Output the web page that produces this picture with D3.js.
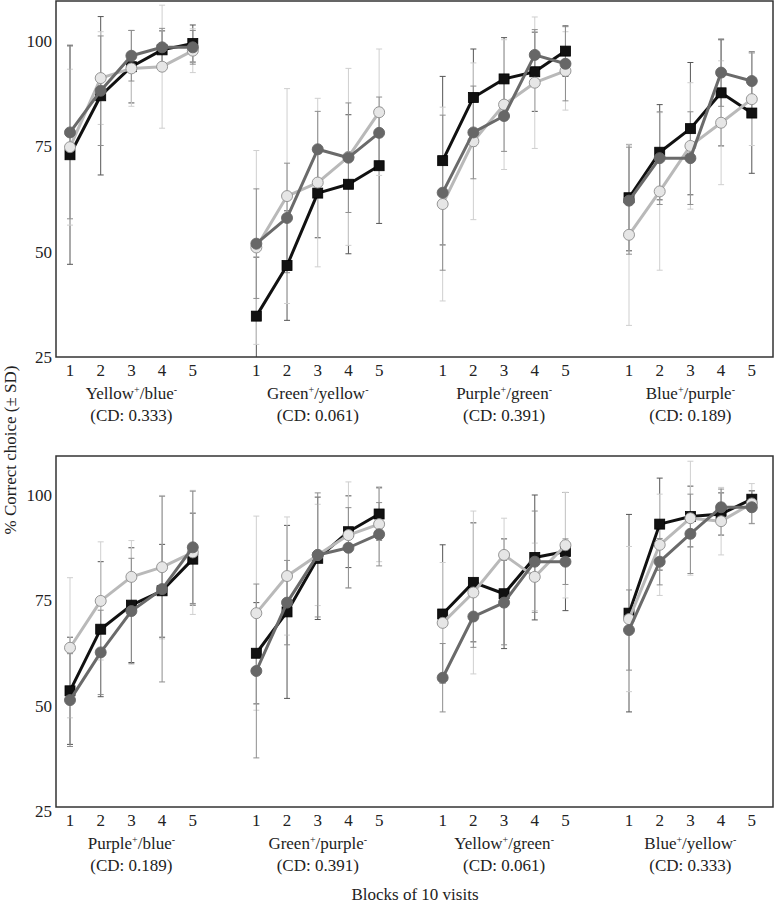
<!DOCTYPE html>
<html><head><meta charset="utf-8">
<script src="https://cdn.jsdelivr.net/npm/d3@7/dist/d3.min.js"></script>
<style>
body{margin:0;background:#fff}
text{font-family:"Liberation Serif","Times New Roman",serif;fill:#222}
</style>
</head><body>
<svg id="chart" width="775" height="905"></svg>
<script>
// ---------- DATA ----------
const blocks = [1, 2, 3, 4, 5];
const yTicks = [25, 50, 75, 100];

const topPlus  = ["Yellow", "Green", "Purple", "Blue"];
const topMinus = ["blue", "yellow", "green", "purple"];
const topCD    = ["0.333", "0.061", "0.391", "0.189"];

const botPlus  = ["Purple", "Green", "Yellow", "Blue"];
const botMinus = ["blue", "purple", "green", "yellow"];
const botCD    = ["0.189", "0.391", "0.061", "0.333"];

// top panel means (one row per pair, 5 blocks)
const topBlack = [[73.0, 87.0, 93.9, 97.9, 99.4],[34.7, 46.7, 63.9, 66.0, 70.4],[71.6, 86.6, 91.0, 92.7, 97.6],[62.8, 73.6, 79.2, 87.7, 82.9]];
const topDark  = [[78.3, 88.2, 96.5, 98.5, 98.5],[51.9, 58.0, 74.3, 72.3, 78.2],[64.0, 78.3, 82.2, 96.7, 94.6],[62.1, 72.2, 72.2, 92.5, 90.5]];
const topLight = [[74.8, 91.2, 93.5, 93.9, 97.7],[51.0, 63.2, 66.4, 72.5, 83.1],[61.3, 76.2, 84.9, 90.1, 92.9],[54.0, 64.3, 75.1, 80.6, 86.2]];
// top panel SDs
const topBlackSD = [[26, 18.8, 8.6, 4.5, 4.4],[14, 13, 10.6, 16.5, 13.7],[20, 11.5, 9.8, 9.4, 6],[12.6, 11.3, 15.7, 12.6, 14.3]];
const topDarkSD  = [[20.5, 13, 6, 4.5, 4],[13, 13, 9, 13, 8.5],[18.4, 11, 8.4, 6, 8.8],[12.7, 11, 11, 8, 7]];
const topLightSD = [[18.5, 11, 9, 14.6, 5.2],[23, 25.5, 20, 21, 15],[23, 18.6, 15.4, 15.6, 9.3],[21.5, 18.7, 15, 14.7, 11]];

// bottom panel means
const botBlack = [[53.6, 68.2, 73.9, 77.3, 84.8],[62.5, 72.3, 85.0, 91.3, 95.5],[71.8, 79.3, 76.6, 85.2, 86.6],[72.0, 93.1, 94.9, 95.5, 99.0]];
const botDark  = [[51.4, 62.7, 72.5, 77.7, 87.6],[58.3, 74.5, 85.8, 87.5, 90.7],[56.7, 71.2, 74.5, 84.2, 84.2],[68.0, 84.2, 90.8, 97.1, 97.1]];
const botLight = [[63.8, 74.9, 80.6, 82.9, 86.4],[72.0, 80.8, 85.8, 90.5, 93.1],[69.7, 76.9, 85.8, 80.6, 88.1],[70.6, 88.2, 94.5, 93.8, 98.0]];
// bottom panel SDs
const botBlackSD = [[12.7, 16, 13.6, 11, 10.9],[12, 20.5, 14.5, 8.5, 6.2],[16.4, 14.1, 13, 14.8, 14],[23.4, 10.9, 7.2, 5, 2]];
const botDarkSD  = [[11, 10, 12.5, 22, 13.3],[20.6, 10, 14.7, 9.5, 7.5],[8.1, 7.3, 10, 12, 5.4],[9.5, 5.5, 9.4, 4.3, 3.9]];
const botLightSD = [[16.6, 14, 8.6, 17, 14.7],[23, 14, 12, 12.6, 8.9],[14.3, 19.3, 8.7, 8, 12.5],[17.2, 12, 13.5, 8, 4.7]];

const yTitle = "% Correct choice (\u00B1 SD)";
const xTitle = "Blocks of 10 visits";

// ---------- LAYOUT ----------
const svg = d3.select("#chart");
const frameL = 56, frameR = 773;
const groupX = d3.scaleLinear().domain([0, 3]).range([70, 629]);
const blockX = d3.scaleLinear().domain([1, 5]).range([0, 122.8]);
const xPos = (g, b) => groupX(g) + blockX(b);

const styles = {
  black: {line: "#111", fill: "#111", stroke: "#111", err: "#555", shape: "square"},
  light: {line: "#b9b9b9", fill: "#e6e6e6", stroke: "#8c8c8c", err: "#cfcfcf", shape: "circle"},
  dark:  {line: "#6a6a6a", fill: "#676767", stroke: "#676767", err: "#8e8e8e", shape: "circle"}
};

const panels = [
  {id: "top", top: 1, bottom: 357, y: d3.scaleLinear().domain([25, 100]).range([357, 41]),
   plus: topPlus, minus: topMinus, cd: topCD,
   series: [["black", topBlack, topBlackSD], ["light", topLight, topLightSD], ["dark", topDark, topDarkSD]]},
  {id: "bot", top: 456, bottom: 807, y: d3.scaleLinear().domain([25, 100]).range([811.5, 495]),
   plus: botPlus, minus: botMinus, cd: botCD,
   series: [["black", botBlack, botBlackSD], ["light", botLight, botLightSD], ["dark", botDark, botDarkSD]]}
];

panels.forEach(p => {
  const g = svg.append("g");
  const clipId = "clip-" + p.id;
  svg.append("defs").append("clipPath").attr("id", clipId)
    .append("rect").attr("x", frameL).attr("y", p.top).attr("width", frameR - frameL).attr("height", p.bottom - p.top);

  // y tick labels
  g.selectAll(".yt").data(yTicks).join("text")
    .attr("x", 52).attr("y", d => p.y(d)).attr("dy", "0.35em")
    .attr("text-anchor", "end").attr("font-size", 17).text(d => d);

  const plot = g.append("g").attr("clip-path", `url(#${clipId})`);

  // error bars
  p.series.forEach(([key, vals, sds]) => {
    const st = styles[key];
    vals.forEach((row, gi) => {
      row.forEach((v, bi) => {
        const x = xPos(gi, blocks[bi]);
        const y1 = p.y(v + sds[gi][bi]), y2 = p.y(v - sds[gi][bi]);
        plot.append("line").attr("x1", x).attr("x2", x).attr("y1", y1).attr("y2", y2)
          .attr("stroke", st.err).attr("stroke-width", 1);
        [y1, y2].forEach(yy => plot.append("line").attr("x1", x - 3).attr("x2", x + 3)
          .attr("y1", yy).attr("y2", yy).attr("stroke", st.err).attr("stroke-width", 1));
      });
    });
  });

  // lines and markers
  p.series.forEach(([key, vals]) => {
    const st = styles[key];
    vals.forEach((row, gi) => {
      const pts = row.map((v, bi) => [xPos(gi, blocks[bi]), p.y(v)]);
      plot.append("path").attr("d", d3.line()(pts)).attr("fill", "none")
        .attr("stroke", st.line).attr("stroke-width", 3).attr("stroke-linejoin", "round");
      pts.forEach(([x, y]) => {
        if (st.shape === "square") {
          plot.append("rect").attr("x", x - 5).attr("y", y - 5).attr("width", 10).attr("height", 10)
            .attr("fill", st.fill).attr("stroke", "#000").attr("stroke-width", 0.8);
        } else {
          plot.append("circle").attr("cx", x).attr("cy", y).attr("r", 5.5)
            .attr("fill", st.fill).attr("stroke", st.stroke).attr("stroke-width", 0.9);
        }
      });
    });
  });

  // frame
  g.append("rect").attr("x", frameL).attr("y", p.top).attr("width", frameR - frameL).attr("height", p.bottom - p.top)
    .attr("fill", "none").attr("stroke", "#333").attr("stroke-width", 1.5);

  // x tick labels and category labels
  p.plus.forEach((plus, gi) => {
    blocks.forEach(b => {
      g.append("text").attr("x", xPos(gi, b)).attr("y", p.bottom + 19)
        .attr("text-anchor", "middle").attr("font-size", 17).text(b);
    });
    const cx = xPos(gi, 3);
    const t = g.append("text").attr("x", cx).attr("y", p.bottom + 42)
      .attr("text-anchor", "middle").attr("font-size", 17);
    t.append("tspan").text(plus);
    t.append("tspan").attr("font-size", 10).attr("dy", -6).text("+");
    t.append("tspan").attr("dy", 6).text("/" + p.minus[gi]);
    t.append("tspan").attr("font-size", 10).attr("dy", -6).text("-");
    g.append("text").attr("x", cx).attr("y", p.bottom + 64)
      .attr("text-anchor", "middle").attr("font-size", 17).text("(CD: " + p.cd[gi] + ")");
  });
});

// axis titles
svg.append("text").attr("transform", "translate(16,450) rotate(-90)")
  .attr("text-anchor", "middle").attr("font-size", 17).text(yTitle);
svg.append("text").attr("x", 415).attr("y", 900)
  .attr("text-anchor", "middle").attr("font-size", 17).text(xTitle);
</script>
</body></html>
